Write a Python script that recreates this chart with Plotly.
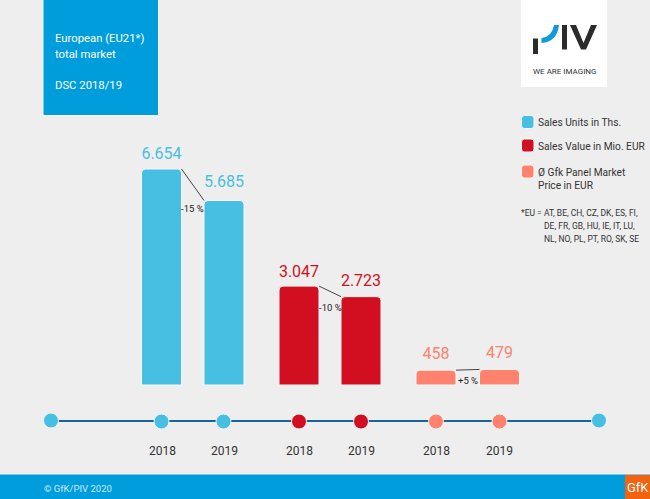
import plotly.graph_objects as go

# chart data
years = ["2018", "2019", "2018", "2019", "2018", "2019"]
units = [6654, 5685]
value = [3047, 2723]
price = [458, 479]
units_labels = ["6.654", "5.685"]
value_labels = ["3.047", "2.723"]
price_labels = ["458", "479"]
changes = ["-15 %", "-10 %", "+5 %"]
legend_names = ["Sales Units in Ths.", "Sales Value in Mio. EUR", "Ø Gfk Panel Market<br>Price in EUR"]
footnote = ["*EU = AT, BE, CH, CZ, DK, ES, FI,", "DE, FR, GB, HU, IE, IT, LU,", "NL, NO, PL, PT, RO, SK, SE"]

W, H = 650, 499
FONT = "Roboto"
BG = "#eeeeee"
BAND = "#009ddc"
BLUE = "#47bfe3"
RED = "#d20f20"
SALMON = "#ff816e"
DARK = "#333333"

# value axis: 216 px for the largest bar, zero line at y=385 px
base_px = 385
px_per_unit = 216 / 6654
y_range = [-(H - base_px) / px_per_unit, base_px / px_per_unit]

bar_w = 40
groups = [
    (units, units_labels, BLUE, [161.5, 224], [155, 182.5]),
    (value, value_labels, RED, [299, 361], [272.5, 281.5]),
    (price, price_labels, SALMON, [436, 499.5], [355, 354]),
]
change_pos = [(192, 208), (330, 307), (468, 380)]


def rounded(x0, y0, x1, y1, r):
    return (f"M{x0+r},{y0} L{x1-r},{y0} Q{x1},{y0} {x1},{y0+r} L{x1},{y1-r} Q{x1},{y1} {x1-r},{y1} "
            f"L{x0+r},{y1} Q{x0},{y1} {x0},{y1-r} L{x0},{y0+r} Q{x0},{y0} {x0+r},{y0} Z")


def label(text, x, y, size=11, color=DARK, anchor="left"):
    fig.add_annotation(text=text, x=x, y=y, xref="x", yref="y2", showarrow=False, xanchor=anchor,
                       xshift=-2 if anchor == "left" else 0, yanchor="middle", align="left",
                       font=dict(family=FONT, size=size, color=color))


def box(x0, y0, x1, y1, color, line=None):
    fig.add_shape(type="rect", x0=x0, y0=y0, x1=x1, y1=y1, xref="x", yref="y2", fillcolor=color,
                  line=dict(color=line or color, width=1 if line else 0), layer="below")


fig = go.Figure()

# bars + connectors + value labels
for vals, labs, col, xs, label_y in groups:
    fig.add_trace(go.Bar(x=xs, y=vals, width=bar_w,
                         marker=dict(color=col, cornerradius=4, line=dict(color="#f8f8f8", width=1))))
    fig.add_trace(go.Scatter(x=[xs[0] + bar_w / 2, xs[1] - bar_w / 2], y=vals, mode="lines",
                             line=dict(color="#444444", width=1)))
    fig.add_trace(go.Scatter(x=xs, y=label_y, yaxis="y2", mode="text", text=labs, textposition="middle center",
                             textfont=dict(family=FONT, size=16, color=col)))

# timeline
dot_x = [51, 161.5, 223.5, 299, 361, 436, 499.5, 599]
dot_y = [420.5, 421.5, 421.5, 421.5, 421.5, 421.5, 421.5, 420.5]
dot_col = [BLUE, BLUE, BLUE, RED, RED, SALMON, SALMON, BLUE]
fig.add_trace(go.Scatter(x=[dot_x[0], dot_x[-1]], y=[421, 421], yaxis="y2", mode="lines",
                         line=dict(color="#16659c", width=2)))
fig.add_trace(go.Scatter(x=dot_x, y=dot_y, yaxis="y2", mode="markers",
                         marker=dict(size=15, color=dot_col, line=dict(color="#f4f4f4", width=1))))

# header panel, footer
box(43, -1, 158.5, 115.5, BAND, "#f6f6f6")
box(-1, 474, 651, 500, BAND, "#f6f6f6")
box(625, 475, 651, 500, "#f2620f")
label("European (EU21*)", 55, 38.5, 11.3, "white")
label("total market", 55, 54.5, 11.3, "white")
label("DSC 2018/19", 55, 85.5, 11.3, "white")
label("© GfK/PIV 2020", 44, 488, 9.5, "#cdeaf7")
label("GfK", 638, 487, 13, "white", "center")

# logo
box(521, -1, 607, 87, "white")
box(533, 38.5, 538, 54, "#2b2b2b")
box(562, 25, 567, 49.5, "#2b2b2b")
fig.add_shape(type="path", xref="x", yref="y2", fillcolor="#2b2b2b", line_width=0,
              path="M570,25 L576,25 L583.5,43 L591,25 L597,25 L586,49.5 L581,49.5 Z")
fig.add_shape(type="path", xref="x", yref="y2", fillcolor="#0f9bd7", line_width=0,
              path="M541.5,38 Q552,37 554,25 L559,25 Q557,42 541.5,43 Z")
label("WE ARE IMAGING", 564.5, 71, 8, "#333333", "center")

# legend
for name, y0, col in zip(legend_names, [115.5, 139, 165], [BLUE, RED, SALMON]):
    fig.add_shape(type="path", xref="x", yref="y2", fillcolor=col, line=dict(color="#f6f6f6", width=1),
                  path=rounded(521.5, y0, 534, y0 + 13, 3))
label(legend_names[0], 537.5, 122, 10.2)
label(legend_names[1], 537.5, 146, 10.2)
label(legend_names[2], 537.5, 179, 10.2)

# footnote
label(footnote[0], 521, 212.5, 8.5)
label(footnote[1], 544, 225.5, 8.5)
label(footnote[2], 544, 238.5, 8.5)

# change labels and years
for txt, (cx, cy) in zip(changes, change_pos):
    label(txt, cx, cy, 9.5, "#222222", "center")
year_x = [162, 224, 299, 361, 436, 499.5]
for yr, x in zip(years, year_x):
    label(yr, x, 450.5, 12, DARK, "center")

fig.update_layout(
    width=W, height=H, margin=dict(l=0, r=0, t=0, b=0), autosize=False,
    paper_bgcolor=BG, plot_bgcolor=BG, showlegend=False, barmode="overlay",
    xaxis=dict(range=[0, W], visible=False),
    yaxis=dict(range=y_range, visible=False),
    yaxis2=dict(range=[H, 0], visible=False, overlaying="y"),
)

fig.write_html("out.html", include_plotlyjs=True, config={"displayModeBar": False},
               post_script="document.body.style.margin='0';document.body.style.overflow='hidden';")
